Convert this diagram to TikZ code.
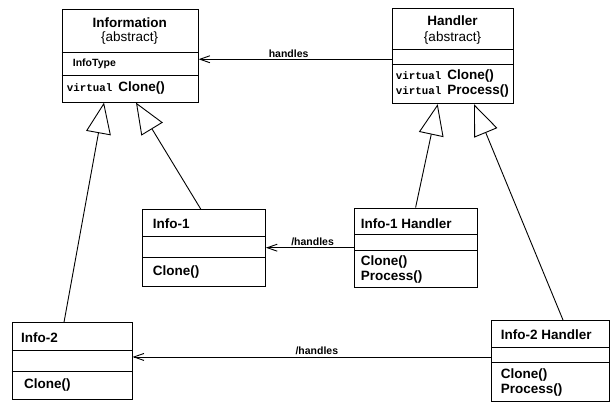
\documentclass[tikz,border=0pt]{standalone}
\usepackage{fontspec}
\setmainfont{Liberation Sans}
\newfontfamily\kwfont{Liberation Mono}
\usetikzlibrary{arrows.meta}

\tikzset{
  classbox/.style={draw, rectangle, anchor=north west, inner sep=0pt, line width=0.9pt},
  classname/.style={inner sep=0pt, font=\bfseries\fontsize{13.5}{15}\selectfont},
  stereo/.style={inner sep=0pt, font=\fontsize{13.5}{15}\selectfont},
  attr/.style={inner sep=0pt, anchor=west, font=\bfseries\fontsize{10.5}{12}\selectfont},
  oper/.style={inner sep=0pt, anchor=west, font=\bfseries\fontsize{13.5}{15}\selectfont},
  inherit/.style={line width=0.9pt, -{Triangle[open, length=31pt, width=25pt, line width=0.9pt]}},
  assoc/.style={line width=0.9pt, -{Straight Barb[length=10pt, width=7pt, line width=0.9pt]}},
  rolename/.style={inner sep=1.5pt, font=\bfseries\fontsize{10.5}{12}\selectfont}
}
\newcommand{\kw}{{\kwfont\bfseries\fontsize{10.8}{12}\selectfont virtual}\hspace{6pt}}

\begin{document}
\begin{tikzpicture}[x=1pt, y=-1pt]
\useasboundingbox (0,0) rectangle (610,404);

% class boxes
\node[classbox, minimum width=136pt, minimum height=92.7pt] (info) at (61.7,9) {};
\node[classbox, minimum width=121.6pt, minimum height=95pt] (handler) at (391.7,8.3) {};
\node[classbox, minimum width=122.7pt, minimum height=76.7pt] (info1) at (142.3,209) {};
\node[classbox, minimum width=123pt, minimum height=79.5pt] (hand1) at (354,207.5) {};
\node[classbox, minimum width=120pt, minimum height=76.7pt] (info2) at (11.7,322.3) {};
\node[classbox, minimum width=118pt, minimum height=81pt] (hand2) at (491,320) {};

% compartments
\foreach \d in {43.3,66.3}
  \draw[line width=0.9pt] ([yshift=-\d pt]info.north west) -- ([yshift=-\d pt]info.north east);
\foreach \d in {41,55.7}
  \draw[line width=0.9pt] ([yshift=-\d pt]handler.north west) -- ([yshift=-\d pt]handler.north east);
\foreach \d in {27,48.3}
  \draw[line width=0.9pt] ([yshift=-\d pt]info1.north west) -- ([yshift=-\d pt]info1.north east);
\foreach \d in {26.8,42.5}
  \draw[line width=0.9pt] ([yshift=-\d pt]hand1.north west) -- ([yshift=-\d pt]hand1.north east);
\foreach \d in {28.4,49.4}
  \draw[line width=0.9pt] ([yshift=-\d pt]info2.north west) -- ([yshift=-\d pt]info2.north east);
\foreach \d in {27.3,42.3}
  \draw[line width=0.9pt] ([yshift=-\d pt]hand2.north west) -- ([yshift=-\d pt]hand2.north east);

% texts
\node[classname] (infoname) at (129.7,22.5) {Information};
\node[stereo] (infoabs) at (129.7,38.5) {\{abstract\}};
\node[attr] (infotype) at (72.7,64) {InfoType};
\node[oper] (infoclone) at (66.7,88) {\kw Clone()};

\node[classname] (handlername) at (452.5,21) {Handler};
\node[stereo] (handlerabs) at (452.5,38) {\{abstract\}};
\node[oper] (handlerclone) at (395.7,76.5) {\kw Clone()};
\node[oper] (handlerproc) at (395.7,91) {\kw Process()};

\node[classname, anchor=west] (info1name) at (152.7,223.3) {Info-1};
\node[oper] (info1clone) at (152.7,271.7) {Clone()};

\node[classname, anchor=west] (hand1name) at (360.7,223.3) {Info-1 Handler};
\node[oper] (hand1clone) at (360.7,261.7) {Clone()};
\node[oper] (hand1proc) at (360.7,276.7) {Process()};

\node[classname, anchor=west] (info2name) at (21,337.3) {Info-2};
\node[oper] (info2clone) at (24,385) {Clone()};

\node[classname, anchor=west] (hand2name) at (500.7,334.3) {Info-2 Handler};
\node[oper] (hand2clone) at (500.7,375) {Clone()};
\node[oper] (hand2proc) at (500.7,390) {Process()};

% generalisation
\draw[inherit] ([xshift=52.3pt]info2.north west) -- ([xshift=42.3pt]info.south west);
\draw[inherit] ([xshift=58.4pt]info1.north west) -- ([xshift=74.3pt]info.south west);
\draw[inherit] ([xshift=61.6pt]hand1.north west) -- ([xshift=46pt]handler.south west);
\draw[inherit] ([xshift=72pt]hand2.north west) -- ([xshift=82.3pt]handler.south west);

% associations
\draw[assoc] ([yshift=-3pt]handler.west) -- ([yshift=-3pt]handler.west -| info.east)
  node[rolename, pos=0.534, above] {handles};
\draw[assoc] (hand1.west) -- (hand1.west -| info1.east)
  node[rolename, pos=0.47, above] {/handles};
\draw[assoc] ([yshift=4pt]hand2.west) -- ([yshift=4pt]hand2.west -| info2.east)
  node[rolename, pos=0.486, above] {/handles};
\end{tikzpicture}
\end{document}
